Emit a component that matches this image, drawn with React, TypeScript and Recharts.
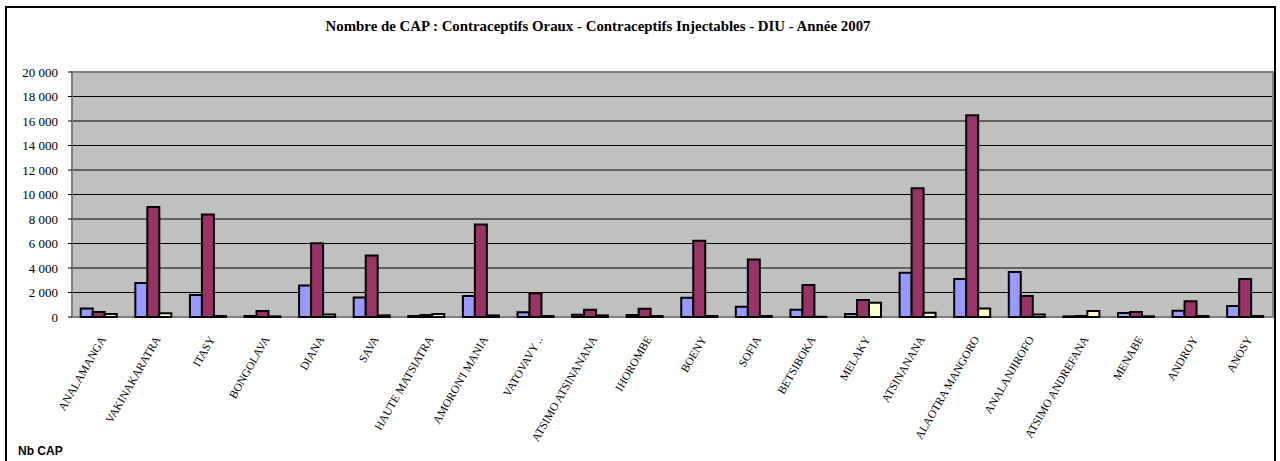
import { BarChart, Bar, XAxis, YAxis, CartesianGrid, ReferenceArea } from 'recharts';

const regions = [
  'ANALAMANGA', 'VAKINAKARATRA', 'ITASY', 'BONGOLAVA', 'DIANA', 'SAVA',
  'HAUTE MATSIATRA', "AMORON'I MANIA", 'VATOVAVY ..', 'ATSIMO ATSINANANA',
  'IHOROMBE', 'BOENY', 'SOFIA', 'BETSIBOKA', 'MELAKY', 'ATSINANANA',
  'ALAOTRA MANGORO', 'ANALANJIROFO', 'ATSIMO ANDREFANA', 'MENABE', 'ANDROY', 'ANOSY',
];

const oraux = [700, 2770, 1800, 80, 2580, 1600, 80, 1710, 380, 190, 160, 1580, 840, 600, 250, 3610, 3100, 3670, 50, 330, 520, 900];
const injectables = [400, 8970, 8370, 500, 6030, 5030, 160, 7550, 1930, 600, 680, 6220, 4700, 2610, 1390, 10520, 16470, 1710, 80, 400, 1280, 3100];
const diu = [250, 300, 80, 50, 200, 130, 250, 130, 80, 130, 80, 80, 80, 20, 1170, 350, 700, 200, 490, 50, 80, 80];

const yTicks = [0, 2000, 4000, 6000, 8000, 10000, 12000, 14000, 16000, 18000, 20000];

const data = regions.map((name, i) => ({
  name,
  oraux: oraux[i],
  injectables: injectables[i],
  diu: diu[i],
}));

const serif = '"Liberation Serif", "Times New Roman", serif';

const formatThousands = (v: number) => String(v).replace(/\B(?=(\d{3})+(?!\d))/g, ' ');

const RegionTick = ({ x, y, payload }: any) => (
  <text
    transform={`translate(${x + 7},${y + 22}) rotate(-60)`}
    textAnchor="end"
    fontFamily={serif}
    fontSize={11.5}
    fill="#000"
  >
    {payload.value}
  </text>
);

const CountTick = ({ x, y, payload }: any) => (
  <text x={x} y={y} dy={4.5} textAnchor="end" fontFamily={serif} fontSize={13} fill="#000">
    {formatThousands(payload.value)}
  </text>
);

export default function App() {
  return (
    <div style={{ position: 'absolute', left: 0, top: 0, width: 1280, height: 461, overflow: 'hidden', background: '#fff' }}>
      <div
        style={{
          position: 'absolute',
          left: 5,
          top: 6,
          width: 1271,
          height: 500,
          border: '2px solid #000',
          boxSizing: 'border-box',
        }}
      />
      <svg width={1280} height={461} style={{ position: 'absolute', left: 0, top: 0 }}>
        <text
          x={598}
          y={31}
          textAnchor="middle"
          fontFamily={serif}
          fontWeight="bold"
          fontSize={15}
          textLength={545}
          lengthAdjust="spacingAndGlyphs"
          fill="#000"
        >
          Nombre de CAP : Contraceptifs Oraux - Contraceptifs Injectables - DIU - Année 2007
        </text>
        <text x={18} y={455} fontFamily='"Liberation Sans", Arial, sans-serif' fontWeight="bold" fontSize={12} fill="#000">
          Nb CAP
        </text>
      </svg>
      <div style={{ position: 'absolute', left: 0, top: 0 }}>
        <BarChart
          width={1280}
          height={461}
          data={data}
          margin={{ top: 72, right: 7, left: 0, bottom: 0 }}
          barCategoryGap="16%"
          barGap={0}
        >
          <CartesianGrid vertical={false} stroke="#000" fill="#C0C0C0" strokeOpacity={1} />
          <XAxis
            dataKey="name"
            interval={0}
            height={144}
            tickLine={false}
            axisLine={false}
            tickSize={0}
            tickMargin={0}
            tick={<RegionTick />}
          />
          <YAxis
            width={72}
            domain={[0, 20000]}
            ticks={yTicks}
            interval={0}
            axisLine={false}
            tickSize={4}
            tickMargin={10}
            tickLine={{ stroke: '#000' }}
            tick={<CountTick />}
          />
          <ReferenceArea y1={0} y2={20000} fill="none" stroke="#808080" strokeWidth={2} ifOverflow="visible" />
          <Bar dataKey="oraux" name="Contraceptifs Oraux" fill="#9999FF" stroke="#000" strokeWidth={2} isAnimationActive={false} />
          <Bar dataKey="injectables" name="Contraceptifs Injectables" fill="#993366" stroke="#000" strokeWidth={2} isAnimationActive={false} />
          <Bar dataKey="diu" name="DIU" fill="#FFFFCC" stroke="#000" strokeWidth={2} isAnimationActive={false} />
        </BarChart>
      </div>
    </div>
  );
}
